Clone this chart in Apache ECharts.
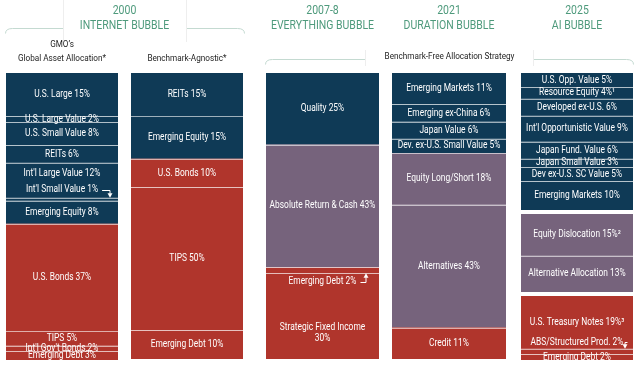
<!DOCTYPE html>
<html><head><meta charset="utf-8">
<script src="https://cdn.jsdelivr.net/npm/echarts@6/dist/echarts.min.js"></script>
<style>html,body{margin:0;padding:0;background:#fff}#c{width:640px;height:366px}</style>
</head><body><div id="c"></div>
<script>
// ---------------- DATA ----------------
const eraYears = ["2000", "2007-8", "2021", "2025"];
const eraNames = ["INTERNET BUBBLE", "EVERYTHING BUBBLE", "DURATION BUBBLE", "AI BUBBLE"];

const gaaTitle = ["GMO’s", "Global Asset Allocation*"];
const agnTitle = ["Benchmark-Agnostic*"];
const bfasTitle = ["Benchmark-Free Allocation Strategy"];

// 2000 - GMO's Global Asset Allocation
const gaaNames = ["U.S. Large", "U.S. Large Value", "U.S. Small Value", "REITs", "Int'l Large Value", "Int'l Small Value", "Emerging Equity", "U.S. Bonds", "TIPS", "Int'l Gov't Bonds", "Emerging Debt"];
const gaaValues = [15, 2, 8, 6, 12, 1, 8, 37, 5, 2, 3];
const gaaClasses = ["Equity", "Equity", "Equity", "Equity", "Equity", "Equity", "Equity", "Fixed Income", "Fixed Income", "Fixed Income", "Fixed Income"];

// 2000 - Benchmark-Agnostic
const agnNames = ["REITs", "Emerging Equity", "U.S. Bonds", "TIPS", "Emerging Debt"];
const agnValues = [15, 15, 10, 50, 10];
const agnClasses = ["Equity", "Equity", "Fixed Income", "Fixed Income", "Fixed Income"];

// 2007-8 - Benchmark-Free Allocation Strategy
const gfcNames = ["Quality", "Absolute Return & Cash", "Emerging Debt", "Strategic Fixed Income"];
const gfcValues = [25, 43, 2, 30];
const gfcClasses = ["Equity", "Alternatives", "Fixed Income", "Fixed Income"];

// 2021
const durNames = ["Emerging Markets", "Emerging ex-China", "Japan Value", "Dev. ex-U.S. Small Value", "Equity Long/Short", "Alternatives", "Credit"];
const durValues = [11, 6, 6, 5, 18, 43, 11];
const durClasses = ["Equity", "Equity", "Equity", "Equity", "Alternatives", "Alternatives", "Fixed Income"];

// 2025
const aiNames = ["U.S. Opp. Value", "Resource Equity", "Developed ex-U.S.", "Int'l Opportunistic Value", "Japan Fund. Value", "Japan Small Value", "Dev ex-U.S. SC Value", "Emerging Markets", "Equity Dislocation", "Alternative Allocation", "U.S. Treasury Notes", "ABS/Structured Prod.", "Emerging Debt"];
const aiValues = [5, 4, 6, 9, 6, 3, 5, 10, 15, 13, 19, 2, 2];
const aiNotes = ["", "¹", "", "", "", "", "", "", "²", "", "³", "", ""];
const aiClasses = ["Equity", "Equity", "Equity", "Equity", "Equity", "Equity", "Equity", "Equity", "Alternatives", "Alternatives", "Fixed Income", "Fixed Income", "Fixed Income"];

// ---------------- STYLE / LAYOUT ----------------
const classColor = { "Equity": "#0f3a56", "Alternatives": "#76637c", "Fixed Income": "#b0352c" };
const sepColor = "rgba(255,255,255,0.6)";
const headColor = "#4e9a7c";
const bracketColor = "#c4dad1";
const FONT = "Roboto";
const SX = 0.84;

const columns = [
  { id: "gaa", names: gaaNames, values: gaaValues, classes: gaaClasses, notes: null, left: 6, width: 112, top: 73, height: 287 },
  { id: "agn", names: agnNames, values: agnValues, classes: agnClasses, notes: null, left: 131, width: 112, top: 73, height: 286 },
  { id: "gfc", names: gfcNames, values: gfcValues, classes: gfcClasses, notes: null, left: 266, width: 113, top: 73, height: 286 },
  { id: "dur", names: durNames, values: durValues, classes: durClasses, notes: null, left: 392, width: 114, top: 73, height: 286 },
  { id: "ai", names: aiNames, values: aiValues, classes: aiClasses, notes: aiNotes, left: 521, width: 112,
    groups: { "Equity": { top: 73, height: 137 }, "Alternatives": { top: 214, height: 78 }, "Fixed Income": { top: 296, height: 64 } } }
];

const callouts = {
  "gaa|Int'l Large Value": { dy: -7 },
  "gaa|Int'l Small Value": { dy: -9.5, arrow: "down", inset: 8 },
  "gfc|Emerging Debt": { dy: 11.5, arrow: "up", inset: 13 },
  "gfc|Strategic Fixed Income": { dy: 17, wrap: true },
  "ai|ABS/Structured Prod.": { dy: -9.5, arrow: "down", inset: 8 }
};

const mctx = document.createElement("canvas").getContext("2d");
function textW(t, size) { mctx.font = size + "px " + FONT; return mctx.measureText(t).width * SX; }

// ---------------- BUILD ----------------
const grids = [], xAxes = [], yAxes = [], series = [];

function addPanel(col, idxList, top, height) {
  const gi = grids.length;
  grids.push({ left: col.left, width: col.width, top: top, height: height });
  xAxes.push({ type: "category", gridIndex: gi, data: [col.id], show: false });
  let total = 0; idxList.forEach(i => total += col.values[i]);
  yAxes.push({ type: "value", gridIndex: gi, min: 0, max: total, inverse: true, show: false });
  const data = []; let acc = 0;
  idxList.forEach(i => { data.push([0, acc, acc + col.values[i], i]); acc += col.values[i]; });
  const first = idxList[0];
  series.push({
    type: "custom", xAxisIndex: gi, yAxisIndex: gi, data: data, silent: true,
    renderItem: function (params, api) {
      const i = api.value(3);
      const cs = params.coordSys;
      const y0 = api.coord([0, api.value(1)])[1];
      const y1 = api.coord([0, api.value(2)])[1];
      const x = cs.x, w = cs.width, xr = x + w;
      const name = col.names[i];
      const co = callouts[col.id + "|" + name] || {};
      const note = col.notes ? col.notes[i] : "";
      const label = name + (co.wrap ? "\n" : " ") + col.values[i] + "%" + note;
      const ch = [{ type: "rect", z2: 1, shape: { x: x, y: y0, width: w, height: y1 - y0 }, style: { fill: classColor[col.classes[i]] } }];
      if (i !== first) {
        const yl = Math.round(y0) + 0.5;
        ch.push({ type: "line", z2: 5, shape: { x1: x, y1: yl, x2: xr, y2: yl }, style: { stroke: sepColor, lineWidth: 1 } });
      }
      const cx = x + w / 2, cy = (y0 + y1) / 2 + (co.dy || 0);
      ch.push({ type: "text", z2: 50, x: cx, y: cy, scaleX: SX,
        style: { text: label, x: 0, y: 0, fill: "#fff", fontSize: 10, fontFamily: FONT, align: "center", verticalAlign: "middle", lineHeight: 11 } });
      if (co.arrow) {
        const tr = cx + textW(label, 10) / 2;
        const ax = xr - co.inset;
        const tip = co.arrow === "down" ? y0 : y1;
        const s = co.arrow === "down" ? -1 : 1;
        const ly = Math.round(cy) + 0.5;
        ch.push({ type: "polyline", z2: 50, shape: { points: [[tr + 4, ly], [ax, ly], [ax, tip + s * 4]] }, style: { stroke: "#fff", lineWidth: 1, fill: null } });
        ch.push({ type: "polygon", z2: 50, shape: { points: [[ax - 2.5, tip + s * 4.5], [ax + 2.5, tip + s * 4.5], [ax, tip]] }, style: { fill: "#fff" } });
      }
      return { type: "group", children: ch };
    }
  });
}

columns.forEach(col => {
  const all = col.values.map((v, i) => i);
  if (col.groups) {
    Object.keys(col.groups).forEach(cls => {
      const g = col.groups[cls];
      addPanel(col, all.filter(i => col.classes[i] === cls), g.top, g.height);
    });
  } else {
    addPanel(col, all, col.top, col.height);
  }
});

// ---------------- DECORATION ----------------
const colById = {}; columns.forEach(c => colById[c.id] = c);
const eraSpans = [["gaa", "agn"], ["gfc"], ["dur"], ["ai"]];
const graphic = [];
function txt(t, x, y, size, color, sx, weight) {
  graphic.push({ type: "text", x: x, y: y, scaleX: sx, z: 10,
    style: { text: t, x: 0, y: 0, fill: color, fontSize: size, fontFamily: FONT, fontWeight: weight || "normal", align: "center", verticalAlign: "middle" } });
}
function bracket(x0, x1, y, gapA, gapB, boxTop, boxBot) {
  const ls = { stroke: bracketColor, lineWidth: 1, fill: null };
  graphic.push({ type: "bezierCurve", shape: { x1: x0, y1: y + 5, cpx1: x0, cpy1: y, x2: x0 + 7, y2: y }, style: ls });
  graphic.push({ type: "line", shape: { x1: x0 + 7, y1: y, x2: gapA, y2: y }, style: ls });
  graphic.push({ type: "line", shape: { x1: gapB, y1: y, x2: x1 - 7, y2: y }, style: ls });
  graphic.push({ type: "bezierCurve", shape: { x1: x1 - 7, y1: y, cpx1: x1, cpy1: y, x2: x1, y2: y + 5 }, style: ls });
  graphic.push({ type: "line", shape: { x1: gapA + 0.5, y1: boxTop, x2: gapA + 0.5, y2: boxBot }, style: { stroke: "#eeeeee", lineWidth: 1 } });
  graphic.push({ type: "line", shape: { x1: gapB + 0.5, y1: boxTop, x2: gapB + 0.5, y2: boxBot }, style: { stroke: "#eeeeee", lineWidth: 1 } });
}
bracket(5.5, 244.5, 28.5, 63, 186, 0, 42);
bracket(265.5, 633.5, 59.5, 365, 533, 50, 66);

eraSpans.forEach((span, k) => {
  const a = colById[span[0]], b = colById[span[span.length - 1]];
  const cx = (a.left + b.left + b.width) / 2;
  txt(eraYears[k], cx, 11, 12.5, headColor, 0.84);
  txt(eraNames[k], cx, 25.5, 12.5, headColor, 0.84);
});
{
  const a = colById.gaa, b = colById.agn, c = colById.gfc, d = colById.ai;
  txt(gaaTitle[0], a.left + a.width / 2, 45, 9.5, "#1e1e1e", 0.86);
  txt(gaaTitle[1], a.left + a.width / 2, 58.5, 9.5, "#1e1e1e", 0.86);
  txt(agnTitle[0], b.left + b.width / 2, 58.5, 9.5, "#1e1e1e", 0.86);
  txt(bfasTitle[0], (c.left + d.left + d.width) / 2, 57, 9.5, "#1e1e1e", 0.86);
}

const chart = echarts.init(document.getElementById("c"), null, { renderer: "canvas" });
chart.setOption({
  animation: false,
  backgroundColor: "#ffffff",
  grid: grids, xAxis: xAxes, yAxis: yAxes, series: series,
  graphic: graphic
});
</script></body></html>
